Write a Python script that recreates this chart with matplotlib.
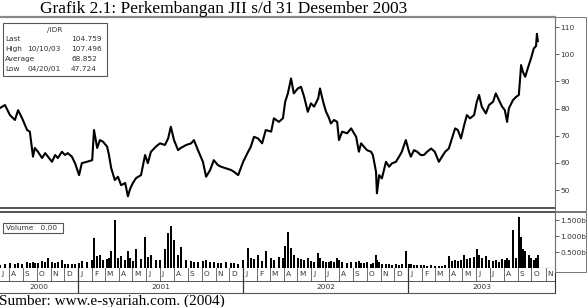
import pandas as pd
import matplotlib
matplotlib.use("Agg")
import matplotlib.pyplot as plt
from matplotlib.patches import Rectangle

# JII weekly closes
dates = ['2000-07-12', '2000-07-23', '2000-08-03', '2000-08-14', '2000-08-21', '2000-08-30',
         '2000-09-10', '2000-09-16', '2000-09-23', '2000-09-27', '2000-10-04', '2000-10-13',
         '2000-10-20', '2000-10-26', '2000-11-04', '2000-11-11', '2000-11-17', '2000-11-26',
         '2000-12-03', '2000-12-09', '2000-12-18', '2000-12-25', '2001-01-03', '2001-01-09',
         '2001-01-20', '2001-02-01', '2001-02-05', '2001-02-12', '2001-02-18', '2001-02-25',
         '2001-03-06', '2001-03-10', '2001-03-15', '2001-03-23', '2001-03-30', '2001-04-06',
         '2001-04-15', '2001-04-21', '2001-04-26', '2001-05-02', '2001-05-09', '2001-05-20',
         '2001-05-29', '2001-06-04', '2001-06-11', '2001-06-22', '2001-07-01', '2001-07-12',
         '2001-07-19', '2001-07-25', '2001-08-01', '2001-08-10', '2001-08-16', '2001-08-28',
         '2001-09-08', '2001-09-14', '2001-09-23', '2001-10-04', '2001-10-11', '2001-10-20',
         '2001-10-28', '2001-11-06', '2001-11-13', '2001-11-24', '2001-12-05', '2001-12-12',
         '2001-12-21', '2002-01-01', '2002-01-12', '2002-01-18', '2002-01-25', '2002-02-03',
         '2002-02-12', '2002-02-20', '2002-03-04', '2002-03-10', '2002-03-21', '2002-03-30',
         '2002-04-04', '2002-04-10', '2002-04-17', '2002-04-23', '2002-05-02', '2002-05-09',
         '2002-05-16', '2002-05-24', '2002-05-31', '2002-06-07', '2002-06-16', '2002-06-20',
         '2002-06-27', '2002-07-03', '2002-07-10', '2002-07-14', '2002-07-21', '2002-07-28',
         '2002-08-01', '2002-08-08', '2002-08-19', '2002-08-28', '2002-09-08', '2002-09-14',
         '2002-09-19', '2002-09-25', '2002-10-02', '2002-10-11', '2002-10-15', '2002-10-22',
         '2002-10-24', '2002-10-29', '2002-11-04', '2002-11-13', '2002-11-20', '2002-11-26',
         '2002-12-05', '2002-12-12', '2002-12-18', '2002-12-27', '2003-01-03', '2003-01-07',
         '2003-01-14', '2003-01-21', '2003-01-29', '2003-02-05', '2003-02-12', '2003-02-21',
         '2003-03-01', '2003-03-10', '2003-03-17', '2003-03-24', '2003-04-01', '2003-04-08',
         '2003-04-15', '2003-04-21', '2003-04-28', '2003-05-05', '2003-05-11', '2003-05-18',
         '2003-05-27', '2003-06-02', '2003-06-07', '2003-06-13', '2003-06-22', '2003-06-29',
         '2003-07-08', '2003-07-14', '2003-07-21', '2003-07-28', '2003-08-03', '2003-08-08',
         '2003-08-12', '2003-08-21', '2003-08-28', '2003-09-03', '2003-09-08', '2003-09-12',
         '2003-09-17', '2003-09-25', '2003-09-30', '2003-10-06', '2003-10-11', '2003-10-13',
         '2003-10-15']

price = [80.2, 81.3, 77.6, 75.8, 79.4, 76.4, 72.1, 71.5, 62.3, 65.5, 64.1, 61.8,
         63.6, 62.3, 60.4, 62.9, 61.8, 64.1, 62.9, 63.6, 62.3, 59.9, 55.5, 59.9,
         60.4, 61.0, 72.1, 65.5, 68.4, 67.8, 66.0, 63.0, 58.1, 53.7, 54.9, 51.8,
         52.6, 47.7, 50.5, 52.6, 54.4, 55.5, 62.9, 59.9, 64.1, 66.0, 67.2, 66.6,
         69.0, 73.3, 68.4, 64.7, 65.5, 66.6, 67.2, 68.4, 64.7, 60.4, 54.9, 57.4,
         61.0, 59.2, 58.6, 58.0, 57.4, 56.7, 55.5, 60.4, 64.1, 66.0, 69.6, 69.0,
         67.2, 72.1, 71.5, 76.4, 75.1, 76.4, 82.5, 85.6, 91.1, 85.6, 87.4, 88.0,
         84.3, 78.8, 81.9, 80.7, 83.7, 87.4, 82.5, 79.0, 76.5, 74.5, 75.8, 75.1,
         68.4, 71.5, 70.9, 72.7, 69.6, 64.1, 67.2, 66.0, 64.7, 64.1, 62.9, 56.7,
         48.8, 55.5, 54.3, 60.4, 58.6, 59.8, 60.4, 62.3, 64.1, 68.4, 64.1, 62.3,
         64.7, 64.1, 62.9, 62.9, 64.1, 65.3, 64.1, 60.4, 62.3, 64.1, 65.3, 69.0,
         72.7, 72.1, 69.0, 73.9, 77.6, 76.4, 77.6, 82.5, 85.0, 80.7, 78.2, 81.3,
         82.5, 85.6, 83.1, 80.7, 79.4, 75.1, 80.1, 83.1, 84.3, 85.0, 96.0, 93.5,
         91.7, 96.0, 98.5, 102.1, 103.0, 107.5, 104.8]

# volume in billions
volume = [0.10, 0.12, 0.15, 0.12, 0.16, 0.14, 0.18, 0.15, 0.20, 0.17, 0.16, 0.22,
          0.19, 0.31, 0.18, 0.15, 0.20, 0.24, 0.14, 0.12, 0.13, 0.12, 0.16, 0.22,
          0.20, 0.25, 0.95, 0.36, 0.40, 0.24, 0.28, 0.30, 0.53, 1.50, 0.30, 0.36,
          0.25, 0.53, 0.30, 0.22, 0.58, 0.28, 0.97, 0.35, 0.42, 0.26, 0.24, 0.58,
          1.08, 1.32, 0.86, 0.40, 0.66, 0.25, 0.22, 0.20, 0.18, 0.22, 0.25, 0.20,
          0.18, 0.16, 0.15, 0.18, 0.16, 0.15, 0.14, 0.25, 0.64, 0.30, 0.28, 0.42,
          0.22, 0.53, 0.30, 0.26, 0.33, 0.30, 0.69, 1.12, 0.64, 0.40, 0.32, 0.28,
          0.25, 0.30, 0.22, 0.20, 0.47, 0.30, 0.22, 0.20, 0.18, 0.22, 0.20, 0.31,
          0.24, 0.18, 0.16, 0.20, 0.18, 0.22, 0.16, 0.15, 0.20, 0.14, 0.16, 0.42,
          0.24, 0.18, 0.14, 0.12, 0.12, 0.10, 0.12, 0.10, 0.12, 0.53, 0.14, 0.12,
          0.10, 0.09, 0.08, 0.08, 0.07, 0.08, 0.07, 0.06, 0.07, 0.09, 0.36, 0.22,
          0.25, 0.22, 0.24, 0.42, 0.28, 0.30, 0.35, 0.58, 0.40, 0.30, 0.36, 0.24,
          0.22, 0.25, 0.20, 0.28, 0.24, 0.30, 0.26, 1.19, 0.30, 1.60, 0.97, 0.60,
          0.53, 0.40, 0.31, 0.25, 0.30, 0.22, 0.42]

price_ticks = [50, 60, 70, 80, 90, 100, 110]
vol_ticks = [0.5, 1.0, 1.5]
vol_labels = ['0.500b', '1.000b', '1.500b']
stats_rows = [('Last', '', '104.759'), ('High', '10/10/03', '107.496'),
              ('Average', '', '68.852'), ('Low', '04/20/01', '47.724')]
years = ['2000', '2001', '2002', '2003']

d = pd.to_datetime(dates)
start, end = pd.Timestamp('2000-07-12'), pd.Timestamp('2003-11-22')

W, H = 588, 307
fig = plt.figure(figsize=(W / 100, H / 100), dpi=100)
fig.patch.set_facecolor('white')

def box(l, t, r, b):
    return [l / W, 1 - b / H, (r - l) / W, (b - t) / H]

serif = ['Liberation Serif', 'DejaVu Serif']
small = dict(family='DejaVu Sans', fontsize=5.3, color='#333333')

fig.text(224 / W, 1 - 9 / H, 'Grafik 2.1: Perkembangan JII s/d 31 Desember 2003',
         ha='center', va='center', family=serif, fontsize=12.5)

# price panel
ax = fig.add_axes(box(0, 17, 555, 208))
ax.plot(d, price, color='black', lw=1.5)
ax.set_xlim(start, end)
ax.set_ylim(43.4, 113.7)
ax.yaxis.tick_right()
ax.set_yticks(price_ticks)
ax.set_yticklabels([str(t) for t in price_ticks], **small)
ax.tick_params(axis='y', length=3, width=0.6, pad=1, color='#444444')
ax.set_xticks([])
ax.spines['left'].set_visible(False)
ax.spines['top'].set_color('#888888')
ax.spines['top'].set_linewidth(1.6)
ax.spines['right'].set_color('#333333')
ax.spines['bottom'].set_color('#333333')
ax.spines['bottom'].set_linewidth(1.2)

# stats box (panel is 191 px tall, 555 px wide)
ax.add_patch(Rectangle((3 / 555, 1 - 59 / 191), 104 / 555, 53 / 191,
                       transform=ax.transAxes, fill=False, ec='#555555', lw=0.8))
ax.text(55 / 555, 1 - 13 / 191, '/IDR', transform=ax.transAxes, ha='center', va='center', **small)
for i, (name, date_s, val) in enumerate(stats_rows):
    yy = 1 - (22 + i * 10) / 191
    ax.text(5 / 555, yy, name, transform=ax.transAxes, va='center', **small)
    ax.text(27 / 555, yy, date_s, transform=ax.transAxes, va='center', **small)
    ax.text(71 / 555, yy, val, transform=ax.transAxes, va='center', **small)

# volume panel
axv = fig.add_axes(box(0, 212, 555, 268))
axv.bar(d, volume, width=5.5, color='black', align='center')
axv.set_xlim(start, end)
axv.set_ylim(0, 1.75)
axv.yaxis.tick_right()
axv.set_yticks(vol_ticks)
axv.set_yticklabels(vol_labels, **small)
axv.tick_params(axis='y', length=3, width=0.6, pad=1, color='#444444')
axv.set_xticks([])
axv.spines['left'].set_visible(False)
axv.spines['top'].set_color('#333333')
axv.spines['top'].set_linewidth(1.2)
axv.spines['right'].set_color('#333333')
axv.spines['bottom'].set_color('#333333')
axv.add_patch(Rectangle((3 / 555, 1 - 21 / 56), 60 / 555, 10 / 56,
                        transform=axv.transAxes, fill=False, ec='#555555', lw=0.8))
axv.text(6 / 555, 1 - 16 / 56, 'Volume   0.00', transform=axv.transAxes, va='center', **small)

# boxes round the right-hand labels
for t, b in [(17, 211), (212, 272)]:
    fig.add_artist(Rectangle((555 / W, 1 - b / H), 31 / W, (b - t) / H,
                             transform=fig.transFigure, fill=False, ec='#777777', lw=0.7))

# month / year strip
axs = fig.add_axes(box(0, 268, 555, 293))
axs.set_xlim(start, end)
axs.set_ylim(0, 1)
axs.set_xticks([])
axs.set_yticks([])
for s in ['left', 'top']:
    axs.spines[s].set_visible(False)
axs.spines['right'].set_color('#333333')
axs.spines['bottom'].set_color('#555555')
axs.axhline(0.5, color='#555555', lw=0.7)

months = pd.date_range('2000-08-01', '2003-11-01', freq='MS')
axs.text(pd.Timestamp('2000-07-14'), 0.75, 'J', va='center', **small)
for m in months:
    axs.plot([m, m], [0.5, 1], color='#555555', lw=0.6)
    axs.text(m + pd.Timedelta(days=4), 0.75, m.strftime('%b')[0], va='center', **small)

year_edges = [start] + [pd.Timestamp(f'{y}-01-01') for y in years[1:]] + [end]
for y, a, b in zip(years, year_edges[:-1], year_edges[1:]):
    axs.text(a + (b - a) / 2, 0.25, y, ha='center', va='center', **small)
for e in year_edges[1:-1]:
    axs.plot([e, e], [0, 1], color='#333333', lw=0.9)

fig.text(-1 / W, 1 - 295 / H, 'Sumber: www.e-syariah.com. (2004)', ha='left', va='top',
         family=serif, fontsize=11)

fig.savefig('out.png', dpi=100, facecolor='white')
